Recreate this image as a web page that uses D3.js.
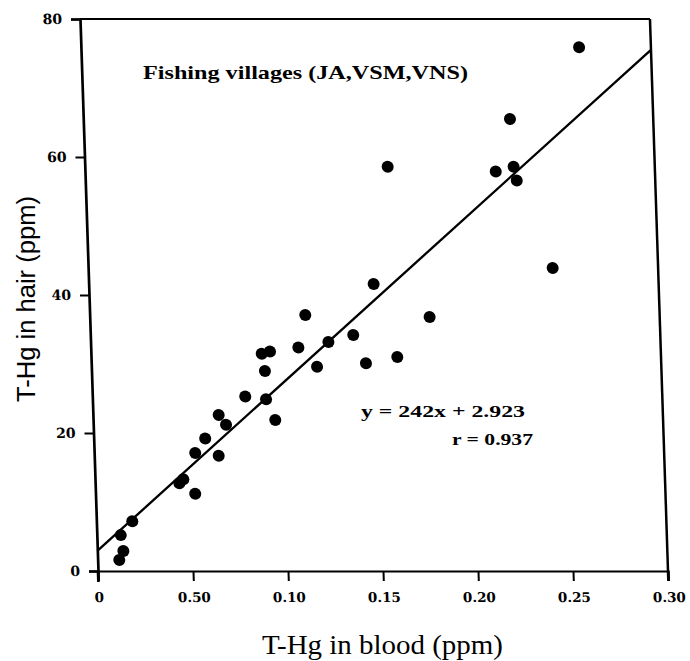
<!DOCTYPE html>
<html>
<head>
<meta charset="utf-8">
<script src="https://cdn.jsdelivr.net/npm/d3@7/dist/d3.min.js"></script>
<style>
  html, body { margin: 0; padding: 0; background: #fff; }
  svg { display: block; }
</style>
</head>
<body>
<svg id="chart" width="690" height="661"></svg>
<script>
// ---- data ----
const bloodHg = [0.2622, 0.2246, 0.2162, 0.2257, 0.2271, 0.1594, 0.2445, 0.1500, 0.1789, 0.1384,
                 0.1446, 0.1612, 0.1252, 0.1135, 0.1093, 0.1188, 0.0899, 0.0943, 0.0913, 0.0805,
                 0.0914, 0.0959, 0.0662, 0.0699, 0.0587, 0.0532, 0.0655, 0.0443, 0.0465, 0.0525,
                 0.0189, 0.0126, 0.0137, 0.0114];
const hairHg  = [75.9, 65.5, 57.9, 58.6, 56.6, 58.6, 43.9, 41.6, 36.8, 34.2,
                 30.1, 31.0, 33.2, 37.1, 32.4, 29.6, 31.5, 31.8, 29.0, 25.3,
                 24.9, 21.9, 22.6, 21.2, 19.2, 17.1, 16.7, 12.7, 13.3, 11.2,
                 7.2, 5.2, 2.9, 1.6];
const xTicks = [0, 0.05, 0.10, 0.15, 0.20, 0.25, 0.30];
const xTickLabels = ["0", "0.50", "0.10", "0.15", "0.20", "0.25", "0.30"];
const yTicks = [0, 20, 40, 60, 80];
const yTickLabels = ["0", "20", "40", "60", "80"];
const slope = 242, intercept = 2.923;
const xDomain = [0, 0.30], yDomain = [0, 80];
const titleText = "Fishing villages (JA,VSM,VNS)";
const eqText = "y = 242x + 2.923";
const rText = "r = 0.937";
const xTitle = "T-Hg in blood (ppm)";
const yTitle = "T-Hg in hair (ppm)";

// ---- layout ----
const L = 98, R = 668, T = 19, B = 571;
const svg = d3.select("#chart");
const x = d3.scaleLinear().domain(xDomain).range([L, R]);
const y = d3.scaleLinear().domain(yDomain).range([B, T]);

// the scanned figure is slightly sheared; reproduce by skewing around the bottom axis
const g = svg.append("g")
  .attr("transform", `translate(0,${B}) skewX(1.87) translate(0,${-B})`);

// frame: top and right
g.append("line").attr("x1", x(0)).attr("x2", x(0.30)).attr("y1", y(80)).attr("y2", y(80))
  .attr("stroke", "#000").attr("stroke-width", 2.2);
g.append("line").attr("x1", x(0.30)).attr("x2", x(0.30)).attr("y1", y(80)).attr("y2", y(0) + 10)
  .attr("stroke", "#000").attr("stroke-width", 2.5);

// bottom axis
const xAxis = d3.axisBottom(x).tickValues(xTicks)
  .tickFormat((d, i) => xTickLabels[i]).tickSize(10).tickPadding(11);
const gx = g.append("g").attr("transform", `translate(0,${B})`).call(xAxis);
gx.select(".domain").attr("stroke-width", 2.2);
gx.selectAll(".tick line").attr("stroke-width", 2);
gx.selectAll("text").attr("font-family", "DejaVu Serif").attr("font-weight", "bold")
  .attr("font-size", 13.5).attr("fill", "#000");

// left axis
const yAxis = d3.axisLeft(y).tickValues(yTicks)
  .tickFormat((d, i) => yTickLabels[i]).tickSize(9).tickPadding(9);
const gy = g.append("g").attr("transform", `translate(${L},0)`).call(yAxis);
gy.select(".domain").attr("stroke-width", 2.7);
gy.selectAll(".tick line").attr("stroke-width", 2);
gy.selectAll("text").attr("font-family", "DejaVu Serif").attr("font-weight", "bold")
  .attr("font-size", 14).attr("fill", "#000");
// extend the left axis slightly below the x axis as in the original
g.append("line").attr("x1", L).attr("x2", L).attr("y1", B).attr("y2", B + 11)
  .attr("stroke", "#000").attr("stroke-width", 2.7);

// regression line
const lineGen = d3.line().x(d => x(d)).y(d => y(slope * d + intercept));
g.append("path").datum(xDomain).attr("d", lineGen)
  .attr("fill", "none").attr("stroke", "#000").attr("stroke-width", 2.3);

// points
g.append("g").selectAll("circle").data(bloodHg).join("circle")
  .attr("cx", d => x(d)).attr("cy", (d, i) => y(hairHg[i])).attr("r", 6).attr("fill", "#000");

// texts
svg.append("text").attr("x", 143).attr("y", 79).text(titleText)
  .attr("font-family", "Liberation Serif").attr("font-weight", "bold").attr("font-size", 19)
  .attr("textLength", 325).attr("lengthAdjust", "spacingAndGlyphs");
svg.append("text").attr("x", 361).attr("y", 417).text(eqText)
  .attr("font-family", "Liberation Serif").attr("font-weight", "bold").attr("font-size", 17.5)
  .attr("textLength", 164).attr("lengthAdjust", "spacingAndGlyphs");
svg.append("text").attr("x", 452).attr("y", 445).text(rText)
  .attr("font-family", "Liberation Serif").attr("font-weight", "bold").attr("font-size", 17.5)
  .attr("textLength", 81).attr("lengthAdjust", "spacingAndGlyphs");

svg.append("text").attr("x", 262).attr("y", 654).text(xTitle)
  .attr("font-family", "Liberation Serif").attr("font-size", 28)
  .attr("textLength", 241).attr("lengthAdjust", "spacingAndGlyphs");
svg.append("text").attr("transform", "translate(35,402) rotate(-90)").text(yTitle)
  .attr("font-family", "Liberation Sans").attr("font-size", 25)
  .attr("textLength", 206).attr("lengthAdjust", "spacingAndGlyphs");
</script>
</body>
</html>
